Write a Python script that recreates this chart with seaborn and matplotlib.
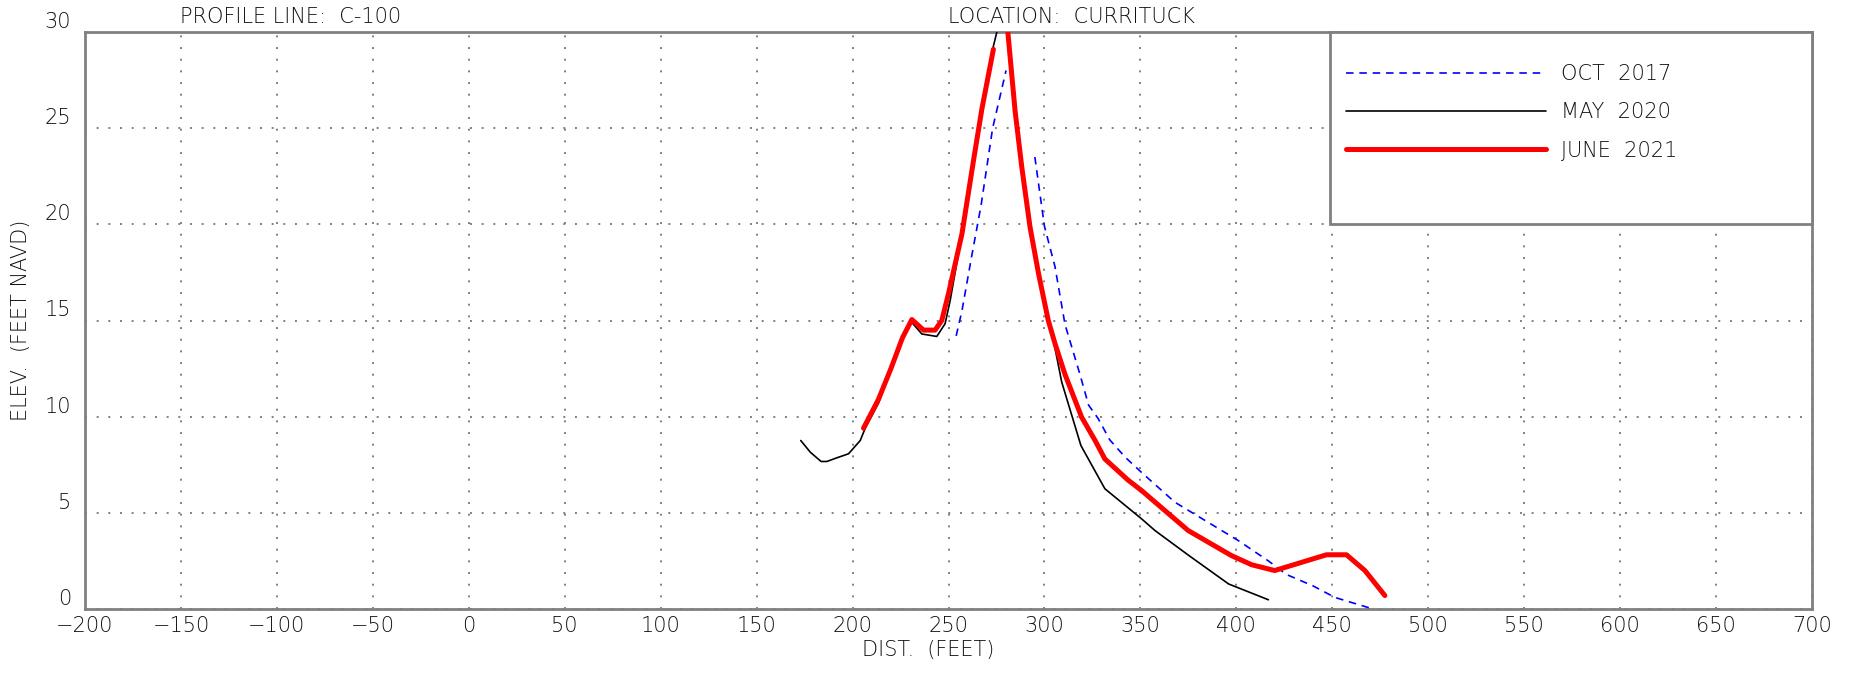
import numpy as np
import pandas as pd
import matplotlib
matplotlib.use("Agg")
import matplotlib.pyplot as plt
import seaborn as sns
from matplotlib.lines import Line2D
from matplotlib.patches import Rectangle

# Survey profiles (distance in feet, elevation in feet NAVD); NaN marks a gap
oct17_dist = [254, 257, 262, 267, 273, 280, np.nan, 295, 300, 305.5, 310.7, 318.5,
              323, 328, 334, 342, 350.6, 368, 385.4, 401, 416.7, 426, 440, 451.4, 469.6]
oct17_elev = [14.2, 15.5, 18.3, 21.0, 25.0, 28.0, np.nan, 23.5, 19.9, 17.8, 14.8, 12.2,
              10.6, 9.9, 8.8, 7.9, 7.1, 5.55, 4.5, 3.56, 2.5, 1.8, 1.2, 0.6, 0.05]

may20_dist = [173, 178, 183.6, 186.6, 191.8, 197.9, 204, 206.6, 213.5, 225.7, 230.9,
              236.1, 243.9, 248.2, 250.8, 257, 263, 267.4, 273, 275.2, 277.5, 280,
              284.7, 288.2, 292.5, 297, 302, 304.7, 309, 319, 331.5, 350.6, 357.6,
              375, 396, 416.7]
may20_elev = [8.76, 8.15, 7.67, 7.67, 7.86, 8.07, 8.76, 9.4, 10.7, 14.1, 14.9,
              14.3, 14.17, 14.83, 16.0, 19.5, 23.3, 26.0, 29.1, 30.0, 32.0, 31.0,
              25.9, 23.0, 19.85, 17.4, 15.0, 13.96, 11.8, 8.5, 6.25, 4.69, 4.08,
              2.8, 1.3, 0.48]

jun21_dist = [205.7, 213.5, 220, 226, 230.9, 237, 243, 246.5, 250, 257, 263, 267.4,
              273.4, np.nan, 280, 284.7, 288.2, 292.5, 297, 302, 305.5, 310.7, 319.4,
              326.4, 331.5, 343.6, 350.6, 374.9, 397.4, 408, 420, 447, 457.4, 467, 477.4]
jun21_elev = [9.4, 10.9, 12.5, 14.1, 15.05, 14.5, 14.5, 15.0, 16.4, 19.5, 23.3, 26.0,
              29.1, np.nan, 31.0, 25.9, 22.97, 19.85, 17.4, 15.0, 13.8, 12.2, 9.97,
              8.76, 7.8, 6.7, 6.16, 4.08, 2.78, 2.3, 2.0, 2.82, 2.82, 2.0, 0.7]

labels = ["OCT  2017", "MAY  2020", "JUNE  2021"]
x_ticks = list(range(-200, 701, 50))
y_ticks = list(range(0, 31, 5))


def to_frame(dist, elev):
    df = pd.DataFrame({"dist": dist, "elev": elev})
    df["seg"] = df["dist"].isna().cumsum()
    return df.dropna()


sns.set_style("white")
plt.rcParams["font.family"] = ["DejaVu Sans"]
plt.rcParams["font.weight"] = "light"
text_color = "#111111"
grid_color = "#808080"

fig = plt.figure(figsize=(18.51, 6.74), dpi=100)
ax = fig.add_axes([85 / 1851, 1 - 609 / 674, 1727 / 1851, 577 / 674])

styles = [
    dict(color="#0000ff", lw=1.2, linestyle=(0, (4.5, 3.5))),
    dict(color="black", lw=1.2, linestyle="-"),
    dict(color="#ff0000", lw=3.6, linestyle="-"),
]
for (d, e), st in zip([(oct17_dist, oct17_elev), (may20_dist, may20_elev),
                       (jun21_dist, jun21_elev)], styles):
    sns.lineplot(data=to_frame(d, e), x="dist", y="elev", units="seg",
                 estimator=None, sort=False, ax=ax, zorder=4, **st)

ax.set_xlim(-200, 700)
ax.set_ylim(0, 30)
ax.set_xticks(x_ticks)
ax.set_yticks(y_ticks)
ax.grid(True, color=grid_color, linestyle=(0, (1, 5)), linewidth=1.4)
ax.tick_params(length=0, labelsize=15, labelcolor=text_color)
ax.tick_params(axis="x", pad=5)
ax.tick_params(axis="y", pad=10)
for lab in ax.get_yticklabels():
    lab.set_va("bottom")
for sp in ax.spines.values():
    sp.set_color(grid_color)
    sp.set_linewidth(2)

ax.set_xlabel("")
ax.set_ylabel("")
fig.text(928 / 1851, 1 - 650 / 674, "DIST.  (FEET)", ha="center", va="center",
         fontsize=15, color=text_color)
fig.text(21 / 1851, 1 - 320 / 674, "ELEV.  (FEET NAVD)", ha="center", va="center",
         rotation=90, fontsize=15, color=text_color)
fig.text(180 / 1851, 1 - 17 / 674, "PROFILE LINE:  C-100", ha="left", va="center",
         fontsize=15, color=text_color)
fig.text(948 / 1851, 1 - 17 / 674, "LOCATION:  CURRITUCK", ha="left", va="center",
         fontsize=15, color=text_color)

# legend box
box_x0 = (1330 - 85) / 1727
box_y0 = (609 - 224) / 577
ax.add_patch(Rectangle((box_x0, box_y0), 1 - box_x0, 1 - box_y0, transform=ax.transAxes,
                       facecolor="white", edgecolor=grid_color, lw=2, zorder=5,
                       clip_on=False))
handles = [Line2D([], [], **st) for st in styles]
leg = ax.legend(handles, labels, loc="upper left",
                bbox_to_anchor=((1346 - 85) / 1727, (609 - 64) / 577),
                frameon=False, fontsize=15, handlelength=9.6, handletextpad=0.7,
                labelspacing=0.88, borderpad=0, borderaxespad=0)
leg.set_zorder(6)
for t in leg.get_texts():
    t.set_color(text_color)

fig.savefig("out.png", dpi=100)
